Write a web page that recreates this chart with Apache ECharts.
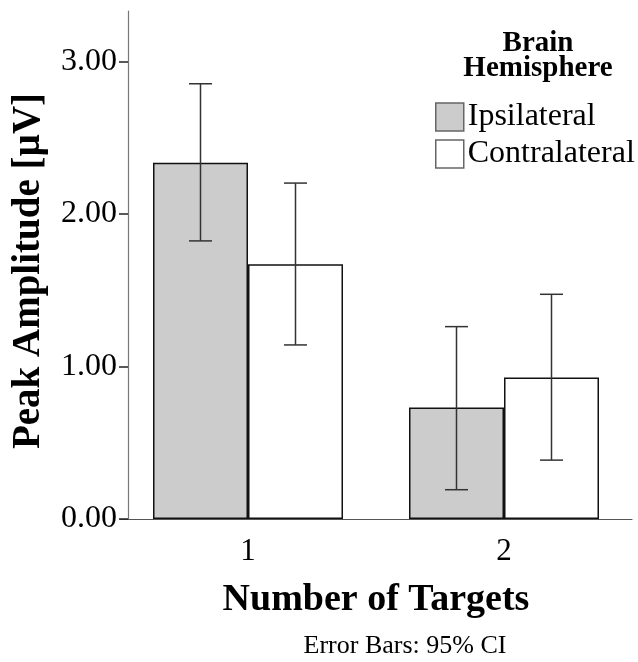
<!DOCTYPE html>
<html>
<head>
<meta charset="utf-8">
<script src="https://cdn.jsdelivr.net/npm/echarts@6/dist/echarts.min.js"></script>
<style>
  html, body { margin: 0; padding: 0; background: #fff; }
  #chart { width: 638px; height: 662px; }
</style>
</head>
<body>
<div id="chart"></div>
<script>
// data
const categories = ['1', '2']
const seriesNames = ['Ipsilateral', 'Contralateral']
const ipsiMean = [2.335, 0.731]
const ipsiLow = [1.823, 0.192]
const ipsiHigh = [2.853, 1.261]
const contraMean = [1.670, 0.927]
const contraLow = [1.141, 0.386]
const contraHigh = [2.202, 1.473]
const yTicks = [0, 1, 2, 3]

const FONT = 'Liberation Serif'
const BAR_W = 95
const CAP = 11.5

// error bar as custom series, offset to sit on the middle of each bar
const errorBar = (side) => (params, api) => {
    const i = api.value(0)
    const lo = api.coord([i, api.value(1)])
    const hi = api.coord([i, api.value(2)])
    const x = lo[0] + side * BAR_W / 2
    const style = { stroke: '#333', lineWidth: 1.5 }
    return {
        type: 'group',
        children: [
            { type: 'line', shape: { x1: x, y1: lo[1], x2: x, y2: hi[1] }, style },
            { type: 'line', shape: { x1: x - CAP, y1: lo[1], x2: x + CAP, y2: lo[1] }, style },
            { type: 'line', shape: { x1: x - CAP, y1: hi[1], x2: x + CAP, y2: hi[1] }, style }
        ]
    }
}

const ciData = (low, high) => categories.map((c, i) => [i, low[i], high[i]])

const chart = echarts.init(document.getElementById('chart'))
const option = {
    backgroundColor: '#fff',
    animation: false,
    textStyle: { fontFamily: FONT },
    title: [
        {
            text: 'Brain\nHemisphere',
            left: 533,
            top: 26,
            textAlign: 'center',
            textStyle: { fontFamily: FONT, fontWeight: 'bold', fontSize: 29, lineHeight: 25, color: '#000' }
        },
        {
            text: 'Error Bars: 95% CI',
            left: 400,
            top: 628,
            textAlign: 'center',
            textStyle: { fontFamily: FONT, fontWeight: 'normal', fontSize: 26, color: '#000' }
        }
    ],
    legend: {
        orient: 'vertical',
        left: 430,
        top: 96,
        icon: 'rect',
        itemWidth: 28,
        itemHeight: 28,
        itemGap: 5,
        data: seriesNames,
        itemStyle: { borderColor: '#666', borderWidth: 1.5 },
        textStyle: { fontFamily: FONT, fontSize: 32, color: '#000', lineHeight: 28, padding: [0, 0, 0, -1] }
    },
    grid: { left: 120, width: 512, top: 11, bottom: 143 },
    xAxis: {
        type: 'category',
        data: categories,
        name: 'Number of Targets',
        nameLocation: 'middle',
        nameGap: 62,
        nameTextStyle: { fontFamily: FONT, fontWeight: 'bold', fontSize: 38, color: '#000' },
        axisLine: { lineStyle: { color: '#555', width: 1.2 } },
        axisTick: { alignWithLabel: true, length: 10, lineStyle: { color: '#222', width: 1.5 } },
        axisLabel: { fontFamily: FONT, fontSize: 31, color: '#000', margin: 17 }
    },
    yAxis: {
        type: 'value',
        min: 0,
        max: 3.33,
        interval: 1,
        offset: -8,
        name: 'Peak Amplitude [µV]',
        nameLocation: 'middle',
        nameRotate: 90,
        nameGap: 80,
        nameTextStyle: { fontFamily: FONT, fontWeight: 'bold', fontSize: 39, color: '#000', padding: [0, 12, 0, 0] },
        splitLine: { show: false },
        axisLine: { show: true, lineStyle: { color: '#777', width: 1.2 } },
        axisTick: { show: true, length: 9, customValues: yTicks, lineStyle: { color: '#222', width: 1.5 } },
        axisLabel: {
            fontFamily: FONT, fontSize: 32, color: '#000', margin: 11,
            customValues: yTicks,
            formatter: (v) => v.toFixed(2)
        }
    },
    series: [
        {
            name: seriesNames[0],
            type: 'bar',
            data: ipsiMean,
            barWidth: BAR_W,
            barGap: '0%',
            itemStyle: { color: '#cccccc', borderColor: '#111', borderWidth: 1.5 }
        },
        {
            name: seriesNames[1],
            type: 'bar',
            data: contraMean,
            barWidth: BAR_W,
            barGap: '0%',
            itemStyle: { color: '#ffffff', borderColor: '#111', borderWidth: 1.5 }
        },
        {
            name: 'ci-ipsi',
            type: 'custom',
            renderItem: errorBar(-1),
            data: ciData(ipsiLow, ipsiHigh),
            encode: { x: 0, y: [1, 2] },
            z: 5
        },
        {
            name: 'ci-contra',
            type: 'custom',
            renderItem: errorBar(1),
            data: ciData(contraLow, contraHigh),
            encode: { x: 0, y: [1, 2] },
            z: 5
        }
    ]
}
chart.setOption(option)

window.addEventListener('resize', () => {
    chart.resize()
})
</script>
</body>
</html>
